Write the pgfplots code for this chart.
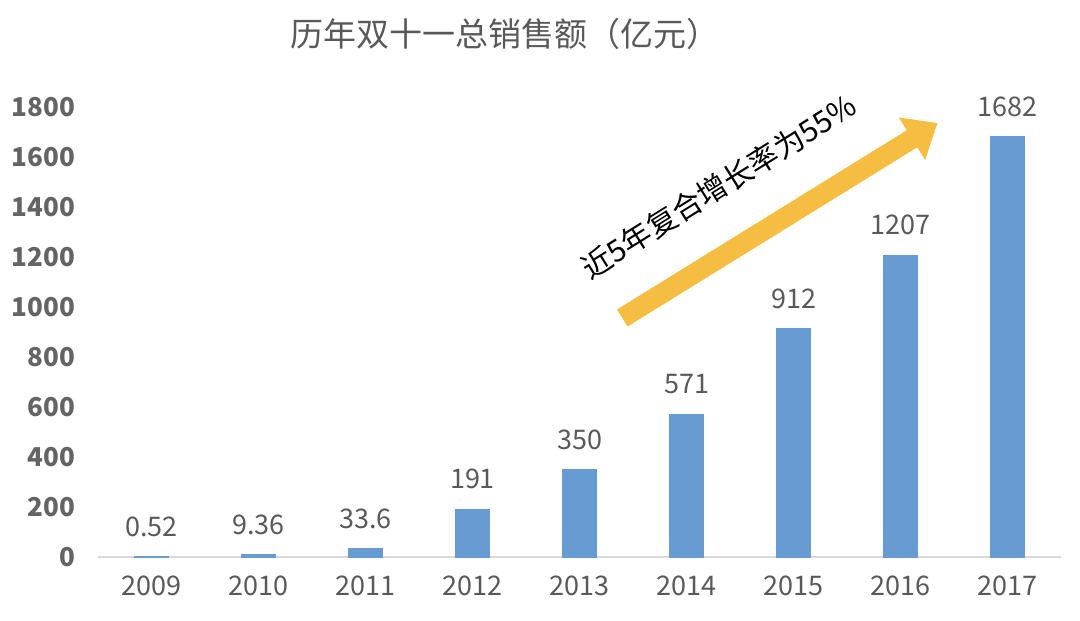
\documentclass[border=0pt]{standalone}
\usepackage{pgfplots}
\pgfplotsset{compat=1.18}
\usepackage{fontspec}
\setmainfont{Noto Sans CJK SC}
\usetikzlibrary{arrows.meta}
\definecolor{barblue}{RGB}{104,155,209}
\definecolor{txtgray}{RGB}{89,89,89}
\definecolor{ylabgray}{RGB}{100,100,100}
\definecolor{arrowyel}{RGB}{245,189,65}
\definecolor{axisgray}{RGB}{217,217,217}
\begin{document}
\begin{tikzpicture}
\begin{axis}[
  scale only axis,
  width=481.5pt, height=225pt,
  xmin=-0.5, xmax=8.5,
  ymin=0, ymax=1800,
  ybar, bar width=16.5pt,
  axis line style={draw=none},
  axis x line*=bottom,
  axis y line*=left,
  ytick={0,200,...,1800},
  xtick={0,...,8},
  xticklabels={2009,2010,2011,2012,2013,2014,2015,2016,2017},
  major tick length=0pt,
  /pgf/number format/assume math mode=true,
  /pgf/number format/1000 sep={},
  x tick label style={font=\fontsize{13.5}{15}\selectfont, text=txtgray, yshift=-6pt},
  yticklabel style={font=\fontsize{13}{15}\selectfont\bfseries, text=ylabgray, xshift=-8pt},
  clip=false,
  nodes near coords,
  point meta=explicit symbolic,
  every node near coord/.append style={font=\fontsize{13.5}{15}\selectfont, text=txtgray, anchor=center, yshift=15pt},
  title={历年双十一总销售额（亿元）},
  title style={at={(0.4226,1)}, anchor=center, yshift=30.5pt, font=\fontsize{16.5}{18}\selectfont, text=txtgray},
]
\draw[axisgray, line width=1pt] (axis cs:-0.5,0) -- (axis cs:8.5,0);
\addplot[fill=barblue, draw=barblue, line width=0.6pt] coordinates {
  (0,0.52) [0.52]
  (1,9.36) [9.36]
  (2,33.6) [33.6]
  (3,191) [191]
  (4,350) [350]
  (5,571) [571]
  (6,912) [912]
  (7,1207) [1207]
  (8,1682) [1682]
};
\draw[arrowyel, line width=10pt, -{Triangle[width=24pt,length=15pt]}] (axis cs:4.40,956) -- (axis cs:7.346,1736);
\node[rotate=32, font=\fontsize{15}{17}\selectfont, text=black] at (axis cs:5.30,1482) {近5年复合增长率为55\%};
\end{axis}
\path ([shift={(-49pt,-31.5pt)}]current axis.south west) rectangle ([shift={(9.5pt,53.5pt)}]current axis.north east);
\end{tikzpicture}
\end{document}
